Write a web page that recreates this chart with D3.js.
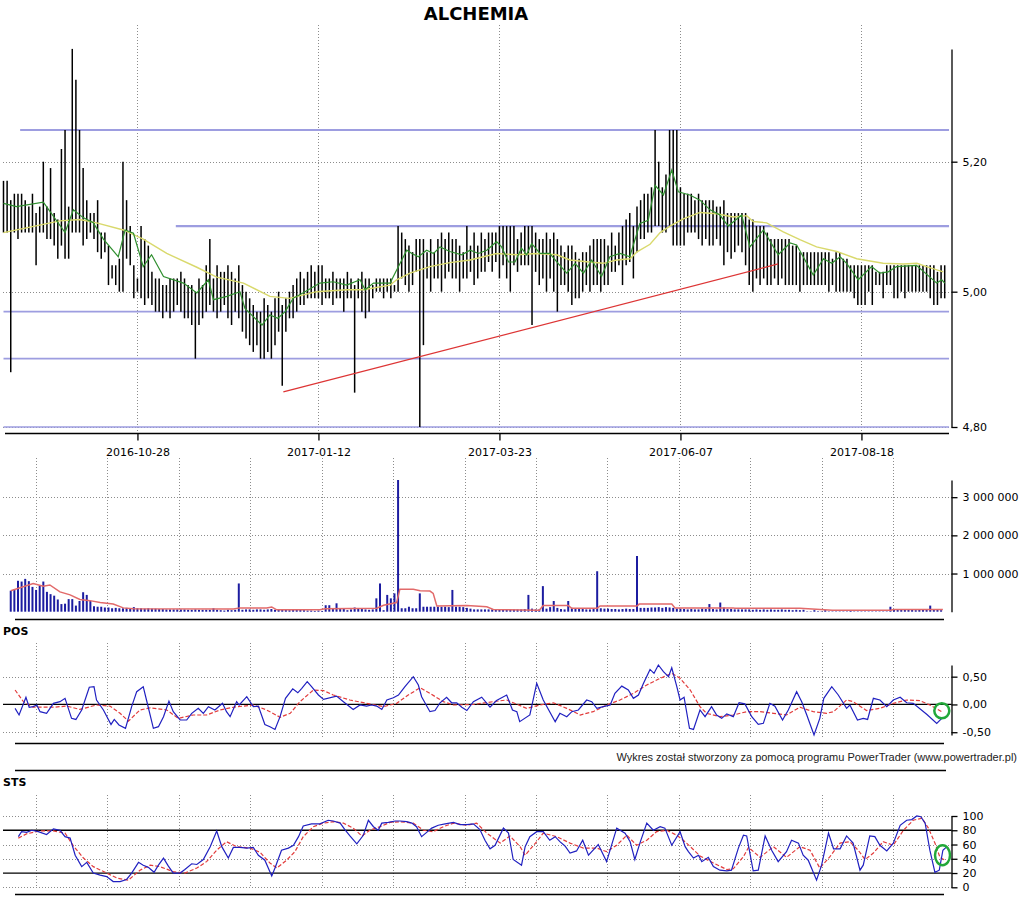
<!DOCTYPE html>
<html><head><meta charset="utf-8">
<script src="https://cdn.jsdelivr.net/npm/d3@7"></script>
<style>body{margin:0;background:#fff}svg{display:block}</style>
</head><body>
<svg id="c" width="1024" height="898"></svg>
<script>
// ---------------- DATA ----------------
const title = "ALCHEMIA";
const dateLabels = ["2016-10-28","2017-01-12","2017-03-23","2017-06-07","2017-08-18"];
const dateIdx = [37,87,137,187,237];
const priceTicks = [4.80, 5.00, 5.20];
const volTicks = [1000, 2000, 3000];      // thousands of shares
const posTicks = [-0.5, 0, 0.5];
const stsTicks = [0, 20, 40, 60, 80, 100];

const high = [
5.17,5.17,5.14,5.15,5.15,5.15,5.14,5.13,5.15,5.12,
5.13,5.20,5.13,5.19,5.12,5.11,5.22,5.25,5.13,5.38,
5.33,5.25,5.19,5.14,5.12,5.12,5.14,5.09,5.09,5.07,
5.04,5.04,5.05,5.20,5.14,5.10,5.04,5.02,5.10,5.08,
5.07,5.03,5.02,5.02,5.01,5.01,5.02,5.02,5.02,5.03,
5.02,5.01,5.01,5.00,5.02,5.01,5.04,5.08,5.02,5.04,
5.03,5.03,5.04,5.03,5.02,5.04,5.01,5.00,4.99,4.98,
4.97,4.97,4.99,4.98,4.97,4.99,5.00,4.98,4.99,5.00,
5.01,5.02,5.03,5.02,5.03,5.04,5.03,5.04,5.04,5.02,
5.02,5.03,5.02,5.02,5.02,5.03,5.02,5.01,5.02,5.03,
5.02,5.02,5.01,5.02,5.02,5.02,5.02,5.02,5.01,5.10,
5.09,5.08,5.07,5.06,5.08,5.08,5.08,5.06,5.08,5.06,
5.08,5.09,5.08,5.09,5.08,5.08,5.07,5.06,5.10,5.07,
5.09,5.07,5.09,5.08,5.09,5.09,5.09,5.10,5.10,5.10,
5.10,5.10,5.08,5.09,5.10,5.10,5.10,5.09,5.08,5.08,
5.09,5.08,5.09,5.08,5.07,5.06,5.07,5.07,5.06,5.05,
5.06,5.06,5.07,5.08,5.08,5.08,5.08,5.07,5.09,5.07,
5.09,5.10,5.11,5.12,5.10,5.13,5.14,5.15,5.15,5.16,
5.25,5.20,5.16,5.18,5.25,5.25,5.25,5.16,5.15,5.15,
5.15,5.14,5.15,5.14,5.14,5.14,5.14,5.13,5.13,5.14,
5.12,5.12,5.12,5.12,5.12,5.12,5.11,5.11,5.10,5.10,
5.10,5.09,5.08,5.08,5.08,5.08,5.08,5.08,5.07,5.07,
5.06,5.06,5.06,5.06,5.06,5.06,5.06,5.06,5.06,5.05,
5.06,5.06,5.05,5.05,5.04,5.04,5.04,5.04,5.04,5.04,
5.04,5.03,5.03,5.03,5.04,5.04,5.04,5.04,5.04,5.04,
5.04,5.04,5.04,5.04,5.04,5.04,5.04,5.04,5.03,5.04,
5.04];
const low = [
5.09,5.09,4.88,5.09,5.08,5.09,5.09,5.09,5.09,5.04,
5.09,5.09,5.08,5.08,5.07,5.05,5.07,5.05,5.05,5.09,
5.09,5.09,5.07,5.08,5.09,5.08,5.06,5.05,5.06,5.01,
5.02,5.01,5.00,5.00,5.05,5.04,4.99,5.00,4.99,4.98,
4.99,4.98,4.97,4.97,4.96,4.97,4.96,4.97,4.98,4.97,
4.96,4.96,4.95,4.90,4.95,4.96,4.97,4.98,4.97,4.96,
4.97,4.98,4.96,4.95,4.97,4.96,4.94,4.93,4.92,4.91,
4.92,4.90,4.90,4.91,4.90,4.92,4.94,4.86,4.94,4.96,
4.96,4.97,4.98,4.98,4.99,4.99,4.99,4.99,4.98,4.99,
4.99,4.98,4.99,4.99,4.97,4.99,4.99,4.85,4.99,4.97,
4.96,4.97,4.99,5.00,5.00,4.99,5.00,4.99,5.00,5.00,
5.02,5.01,5.00,5.01,5.03,4.80,4.92,5.02,5.00,5.02,
5.02,5.00,5.02,5.03,5.02,5.02,5.00,5.02,5.02,5.03,
5.01,5.02,5.03,5.03,5.045,5.03,5.045,5.02,5.04,5.02,
5.00,5.04,5.03,5.04,5.04,5.04,4.95,5.03,5.01,5.02,
5.00,5.02,5.00,4.97,5.01,5.01,5.00,4.98,4.99,4.99,
5.00,5.01,5.00,5.01,5.01,5.00,5.01,5.01,5.03,5.03,
5.04,5.01,5.04,5.045,5.02,5.06,5.08,5.08,5.09,5.09,
5.10,5.10,5.09,5.09,5.10,5.07,5.07,5.07,5.07,5.09,
5.09,5.09,5.08,5.07,5.08,5.07,5.07,5.08,5.07,5.04,
5.06,5.05,5.06,5.07,5.06,5.04,5.01,5.00,5.02,5.01,
5.02,5.01,5.01,5.02,5.01,5.02,5.01,5.01,5.01,5.01,
5.00,5.01,5.01,5.01,5.01,5.01,5.01,5.01,5.00,5.01,
5.00,5.00,5.00,5.00,5.00,4.99,4.98,4.98,4.98,5.00,
4.98,5.01,5.01,4.99,5.01,5.01,4.99,4.99,5.00,4.99,
5.00,5.00,5.00,5.00,5.00,5.00,4.99,4.98,4.98,4.99,
4.99];

// [bar index, value]
const fastMA = [[0,5.135],[3.6,5.13],[11,5.137],[17,5.09],[19.3,5.125],[22,5.113],[24.8,5.105],[27.6,5.08],[31.7,5.053],[33.6,5.094],[35.9,5.089],[38.6,5.038],[40.9,5.056],[44.2,5.023],[49.7,5.013],[53.4,4.998],[56.6,5.018],[58,4.988],[61.7,4.993],[65.3,5.00],[66.7,4.975],[69.5,4.96],[71.4,4.95],[73.6,4.965],[75.8,4.96],[77.8,4.97],[80,4.99],[83.3,5.00],[87.4,5.013],[91.1,5.015],[94.8,5.01],[98.5,5.018],[99.9,5.003],[102.2,5.013],[106.8,5.013],[107.7,5.023],[111.4,5.063],[112.8,5.058],[114.6,5.053],[116.9,5.063],[118.8,5.058],[120.6,5.068],[123.3,5.061],[126.6,5.056],[128.9,5.063],[131.2,5.058],[133.5,5.063],[136.2,5.076],[137.6,5.068],[139.5,5.045],[141.3,5.045],[143.1,5.066],[144.5,5.056],[145.9,5.073],[148.2,5.058],[150.9,5.058],[153.2,5.043],[155.6,5.028],[157.9,5.043],[160.2,5.028],[162.5,5.048],[165.2,5.023],[167.5,5.053],[170.3,5.058],[173,5.053],[175.8,5.104],[178.1,5.109],[180,5.163],[182.3,5.148],[184.6,5.187],[186.4,5.153],[189.6,5.148],[192.4,5.14],[195.2,5.125],[197.9,5.117],[200.2,5.10],[203.9,5.117],[206.2,5.068],[209.9,5.094],[214,5.056],[217.3,5.074],[219.1,5.071],[223.7,5.025],[226.5,5.05],[228.8,5.043],[231.1,5.053],[232.9,5.043],[236.1,5.018],[239.8,5.038],[242.1,5.028],[244.4,5.03],[246.7,5.038],[252.2,5.04],[257.8,5.013],[259.2,5.018],[260,5.013]];
const slowMA = [[0,5.09],[15.6,5.108],[21.1,5.11],[25.7,5.105],[33.1,5.094],[38.6,5.08],[45.1,5.058],[53.4,5.037],[58.9,5.022],[66.3,5.013],[73.6,4.993],[79,4.99],[86.5,5.00],[94.8,5.003],[99.4,5.003],[106.8,5.01],[108.6,5.018],[112.3,5.028],[117.8,5.038],[123.3,5.044],[128.9,5.048],[136.2,5.058],[141.8,5.056],[147.3,5.058],[152.8,5.056],[156.5,5.048],[161.7,5.045],[165.7,5.043],[169.4,5.048],[173.1,5.05],[174.9,5.06],[178.6,5.072],[181.4,5.09],[184.1,5.10],[187.8,5.111],[192.4,5.121],[197,5.119],[201.6,5.114],[205.3,5.116],[207.1,5.107],[210.8,5.105],[215.4,5.091],[220,5.079],[224.6,5.068],[230.2,5.061],[235.7,5.05],[243,5.043],[248.6,5.042],[252.3,5.043],[255,5.038],[259.6,5.03]];

const levels = [5.25, 5.10, 4.97, 4.90, 4.80];
const levelStart = [4.6, 47.6, 0, 0, 0];
const levelEnd = 261.2;
const trend = [[77.3, 4.851], [214, 5.042]];

const volume = [
null,null,550,590,810,790,860,800,650,570,
680,790,520,460,420,320,200,210,330,330,
160,280,510,440,280,140,130,130,110,110,
90,100,90,90,100,90,120,90,90,80,
90,80,80,70,70,60,60,60,60,60,
60,50,50,60,50,50,50,50,90,50,
40,30,50,40,50,740,50,60,60,50,
60,60,50,60,70,50,60,50,50,40,
50,50,50,40,30,30,20,30,20,170,
170,70,220,70,70,40,60,110,80,70,
60,50,60,350,740,40,440,350,480,3450,
90,90,130,90,90,480,130,130,130,130,
130,130,130,120,570,130,130,120,100,80,
60,60,60,60,60,60,60,60,60,60,
60,60,60,60,70,440,80,60,60,670,
80,120,280,100,70,60,280,100,70,70,
70,60,60,70,1060,90,80,80,70,70,
60,70,80,70,70,1460,100,100,100,110,
110,120,100,120,110,100,80,80,70,60,
70,60,60,80,70,200,70,60,240,110,
70,70,60,60,60,60,60,50,60,50,
60,50,60,50,50,60,50,50,40,50,
40,50,10,10,40,10,10,40,10,10,
10,10,10,10,40,10,10,10,10,10,
10,10,10,10,10,130,70,60,70,60,
70,50,40,60,70,50,160,60,70,40,
null];
const volMA = [[2,550],[8.2,740],[11,670],[12.8,700],[15.6,520],[18.4,440],[21.1,320],[23.9,290],[26.7,240],[30.3,200],[33.1,100],[35.9,80],[63.5,70],[65.3,100],[72.7,100],[74.1,120],[75.5,50],[87.4,50],[88.8,80],[103.1,90],[105,170],[108.6,240],[109.5,590],[113.2,590],[115.1,550],[117.8,540],[118.7,480],[119.7,150],[128,160],[133.5,130],[135.3,60],[148,40],[149.1,160],[156,160],[157,90],[164,90],[164.8,150],[175,150],[175.6,200],[184.6,200],[185.5,100],[201.6,100],[202,90],[220,90],[229,40],[245,40],[246,60],[259.5,60]];

const posLine = [[3.2,-0.07],[4.3,-0.19],[6.2,0.13],[7.1,-0.05],[8.2,-0.04],[9.2,-0.01],[10.1,-0.13],[11.9,-0.16],[13.8,0.02],[15.6,0.05],[17,0.11],[18.8,-0.25],[20,-0.27],[21.6,-0.10],[23.7,0.31],[25,0.32],[25.7,0.08],[27.6,-0.10],[29.7,-0.36],[30.6,-0.27],[31.9,-0.37],[33.7,-0.43],[35.4,-0.04],[36.8,0.23],[38.6,0.32],[39.5,0.08],[41.4,-0.43],[42.8,-0.40],[44.2,-0.22],[45.7,0.06],[46.9,-0.13],[48.8,-0.28],[50.6,-0.28],[52,-0.16],[53.8,-0.07],[55.2,-0.16],[56.6,-0.04],[58.4,-0.10],[60.5,0.02],[61.6,-0.13],[62.6,-0.22],[64.4,0.05],[65.1,-0.01],[67.2,0.14],[69,-0.04],[70.4,-0.03],[72.2,-0.36],[73.6,-0.40],[75,-0.45],[76.4,-0.22],[77.9,0.11],[79.9,0.28],[81.3,0.21],[82.4,0.29],[83.9,0.41],[85.1,0.32],[87,0.17],[88.4,0.09],[92,0.15],[93.9,0.05],[96.6,-0.09],[98.5,-0.01],[100.3,-0.03],[101.7,-0.01],[103.1,-0.03],[104.5,-0.09],[105.9,0.08],[107.7,0.12],[109.1,0.17],[110.9,0.32],[113.2,0.50],[114.6,0.35],[115.5,0.14],[117.8,-0.13],[119.2,-0.11],[120.6,0.03],[122.4,0.13],[123.8,0.03],[125.2,0.03],[126.6,-0.05],[128,-0.11],[129.8,0.05],[132.1,0.13],[134.4,-0.05],[136.2,0.07],[139,0.17],[140.6,-0.10],[141.8,-0.13],[142.6,-0.31],[145.4,-0.19],[147.3,0.38],[149.1,0.08],[152.4,-0.31],[153.7,-0.16],[155.6,-0.22],[157,-0.13],[158.8,-0.10],[161.1,0.08],[162.5,0.05],[163.9,-0.07],[165.7,-0.04],[167.6,-0.01],[168.9,0.20],[170.8,0.33],[172.6,0.26],[174,0.11],[175.4,0.17],[176.8,0.38],[178.6,0.63],[179.7,0.56],[180.9,0.71],[182.3,0.59],[183.7,0.50],[184.6,0.66],[186,0.32],[186.9,0.08],[188,0.13],[189.5,-0.43],[190.6,-0.45],[192.4,-0.10],[193.8,-0.22],[195.6,-0.04],[197,-0.19],[198.4,-0.25],[199.8,-0.17],[201.6,-0.22],[203.2,0.03],[204.8,0.01],[206.7,-0.22],[208.5,-0.36],[209.9,-0.34],[211.7,0.02],[213.1,-0.03],[215.2,-0.28],[216.8,-0.10],[219.1,0.23],[220.5,0.05],[221.9,-0.19],[223.9,-0.55],[225.5,-0.25],[226.6,0.11],[228.8,0.32],[230.6,0.17],[232.9,-0.07],[233.8,-0.01],[235.9,-0.28],[237.5,-0.25],[238.7,-0.27],[240.3,0.11],[242.1,0.08],[244,-0.04],[245.8,0.08],[247.7,0.13],[249.5,0.03],[251.3,0.02],[255.1,-0.18],[257.8,-0.34],[259.2,-0.25]];
const posSignal = [[3.2,0.26],[5.5,0.05],[8.2,-0.05],[13.8,-0.05],[17.5,-0.03],[21.1,-0.09],[25.7,-0.01],[29.4,-0.03],[32.2,-0.16],[34.5,-0.30],[37.7,-0.10],[40.5,-0.06],[45.1,-0.10],[48.3,-0.25],[52.4,-0.19],[56.1,-0.19],[59.8,-0.10],[63.5,-0.05],[69,-0.01],[72.7,-0.10],[76.4,-0.23],[79.2,-0.16],[81.9,0.05],[85.6,0.26],[88.4,0.25],[91.1,0.17],[95.7,0.08],[100.3,0.02],[105,-0.04],[108.6,0.02],[111.8,0.17],[115.1,0.30],[117.8,0.20],[121.5,0.05],[124.3,-0.01],[129.8,0.00],[135.3,0.05],[139,0.08],[144.5,-0.07],[148.2,-0.01],[151.9,0.03],[155.6,-0.07],[159.3,-0.19],[162.9,-0.13],[166.6,-0.01],[170.3,0.08],[174,0.20],[177.7,0.35],[181.4,0.47],[184.6,0.56],[186.9,0.47],[189.7,0.26],[192.4,-0.04],[194.2,-0.16],[197.9,-0.22],[201.6,-0.19],[205.3,-0.13],[209,-0.13],[212.7,-0.16],[216.3,-0.19],[220,-0.05],[223.7,-0.13],[227.4,-0.16],[229.3,-0.13],[232.9,0.08],[234.7,0.05],[238.4,-0.11],[242.1,-0.07],[245.8,0.02],[249.5,0.08],[253.1,0.07],[255.9,-0.01],[259.2,-0.13]];

const stsLine = [[4.1,71],[5,78],[6.4,77],[7.8,80],[9.6,78],[11.9,74],[13.8,82],[15.6,80],[17,71],[18.4,69],[19.8,45],[21.6,29],[23,35],[24.8,20],[26.7,17],[28.5,15],[30.3,8],[32.2,8],[34,11],[35.4,20],[37.3,35],[38.6,31],[40,28],[41.6,21],[42.8,31],[44.2,41],[45.5,30],[46.9,20],[48.8,20],[50.1,25],[52,33],[53.4,32],[55.2,39],[57.1,57],[58.9,79],[60.3,57],[62.1,41],[63.5,56],[65.3,56],[67.2,55],[69,56],[70.4,45],[72.2,38],[74.1,16],[75,27],[76.8,52],[78.7,55],[80.1,59],[81.5,71],[82.8,86],[85.1,89],[87.4,89],[89.7,94],[91.1,93],[93,90],[94.3,81],[95.7,72],[97.6,61],[99.4,73],[100.8,94],[102.2,85],[103.5,80],[104.5,90],[106.3,91],[108.2,93],[109.5,93],[111.4,92],[112.8,90],[114.1,85],[115.5,71],[116.9,77],[118.3,83],[120.1,87],[122,89],[124.3,91],[126.1,88],[128,88],[129.8,89],[131.6,81],[133,66],[134.4,54],[135.8,59],[138.1,83],[139.5,76],[140.8,39],[143.1,31],[144.1,57],[145.4,71],[147.3,78],[149.1,78],[150.9,66],[152.4,71],[153.7,64],[155.1,58],[156.5,48],[158.3,51],[160,66],[161.6,45],[164.3,60],[166.6,36],[169.4,83],[171.7,76],[173.1,64],[174.4,39],[175.8,62],[177.7,90],[179.5,80],[181.4,85],[182.7,83],[184.6,59],[186.9,78],[188.3,57],[189.2,50],[190.6,41],[192,45],[192.9,36],[194.7,42],[196.1,29],[197.9,24],[199.8,23],[201.1,24],[203,55],[204.4,73],[205.3,72],[207.1,23],[208.5,24],[210.4,72],[212.2,52],[214,36],[216.3,50],[217.7,66],[219.6,62],[220.9,45],[222.3,38],[224.6,10],[226,31],[227.9,76],[229.3,54],[231.1,54],[232.9,72],[234.7,62],[236.6,24],[237.5,31],[239.3,72],[240.7,71],[242.1,59],[244,51],[245.8,62],[247.7,87],[249.5,94],[250.9,95],[252.3,100],[253.4,99],[254.6,90],[255.9,52],[257.3,21],[258.5,24],[259.5,52],[260.6,57]];
const stsSignal = [[4.1,69],[6.4,75],[10.1,79],[13.8,79],[17,76],[19.3,58],[22.1,41],[24.8,29],[28.5,20],[31.3,13],[34.5,10],[37.7,24],[40.5,31],[43.2,29],[46.9,22],[50.1,20],[53.4,27],[56.1,36],[58.9,52],[61.6,64],[64.4,57],[68.1,55],[70.9,49],[73.6,34],[75.5,27],[78.2,38],[80.5,50],[82.8,71],[85.6,85],[88.4,90],[91.1,92],[93.9,90],[96.6,83],[99,72],[101.2,80],[104,85],[106.8,91],[109.5,92],[113.2,90],[116,80],[118.7,78],[121.5,85],[124.3,90],[128,87],[130.7,90],[133.5,76],[137.2,62],[139.9,72],[142.7,57],[144.1,45],[147.3,64],[149.1,76],[152.8,71],[156.5,62],[160.2,55],[163.9,55],[166.6,50],[169.4,59],[172.2,73],[174.9,59],[177.7,66],[180.4,78],[183.2,80],[186,73],[188.7,62],[192.4,44],[196.1,34],[199.8,25],[201.6,26],[204.4,43],[205.8,56],[209,42],[212.7,57],[216.3,42],[220,57],[222.8,52],[225.5,27],[228.3,43],[231.1,62],[233.8,64],[236.1,52],[238,39],[240.3,48],[243,64],[245.8,59],[248.6,80],[251.3,94],[253.7,97],[255.5,83],[257.3,62],[258.7,42],[260.1,38]];

const markers = [{panel:"pos", i:259.2, v:-0.113}, {panel:"sts", i:259.4, v:45}];
const credit = "Wykres zosta\u0142 stworzony za pomoc\u0105 programu PowerTrader (www.powertrader.pl)";

// ---------------- DRAW ----------------
const svg = d3.select("#c");
const FONT = "DejaVu Sans, Verdana, sans-serif";
const GRID = "#8c8c8c";

const xS = d3.scaleLinear().domain([0, 260]).range([3.5, 944.7]);
const yP = d3.scaleLog().domain([d3.min(low), d3.max(high)]).range([427, 48.9]);
const yV = d3.scaleLinear().domain([0, d3.max(volume)]).range([611.7, 480]);
const posVals = posLine.map(d => d[1]);
const yPos = d3.scaleLinear().domain([d3.min(posVals), d3.max(posVals)]).range([735, 665]);
const yS = d3.scaleLinear().domain([0, 100]).range([887.3, 816]);

const AX = 951.5;
const lowerGridX = d3.range(13).map(k => 36 + k * 71.42);

function hline(g, y, x1, x2, stroke, w, dash) {
  const l = g.append("line").attr("x1", x1).attr("x2", x2).attr("y1", y).attr("y2", y)
    .attr("stroke", stroke).attr("stroke-width", w);
  if (dash) l.attr("stroke-dasharray", dash);
  return l;
}
function vline(g, x, y1, y2, stroke, w, dash) {
  const l = g.append("line").attr("x1", x).attr("x2", x).attr("y1", y1).attr("y2", y2)
    .attr("stroke", stroke).attr("stroke-width", w);
  if (dash) l.attr("stroke-dasharray", dash);
  return l;
}
function styleAxis(g) {
  g.attr("font-family", FONT).attr("font-size", 11);
  g.selectAll("path.domain").attr("stroke", "#000").attr("stroke-width", 1.3);
  g.selectAll(".tick line").attr("stroke", "#000").attr("stroke-width", 1.3);
  g.selectAll(".tick text").attr("fill", "#000");
}
const comma = f => (v => f(v).replace(".", ",").replace("\u2212", "-"));

// title
svg.append("text").attr("x", 476).attr("y", 20).attr("text-anchor", "middle")
  .attr("font-family", FONT).attr("font-weight", "bold").attr("font-size", 18).text(title);

// ===== price panel =====
const gp = svg.append("g");
dateIdx.forEach(i => vline(gp, Math.round(xS(i)) + 0.5, 25, 433, GRID, 1, "1,2"));
priceTicks.forEach(t => hline(gp, Math.round(yP(t)) + 0.5, 3, AX, GRID, 1, "1,2"));
levels.forEach((lv, k) => hline(gp, yP(lv), xS(levelStart[k]), xS(levelEnd), "#9d9de0", k < 2 ? 2.2 : 1.6));

gp.append("g").selectAll("line").data(high).join("line")
  .attr("x1", (d, i) => xS(i)).attr("x2", (d, i) => xS(i))
  .attr("y1", d => yP(d)).attr("y2", (d, i) => yP(low[i]))
  .attr("stroke", "#000").attr("stroke-width", 1.5);

const lineP = d3.line().x(d => xS(d[0])).y(d => yP(d[1]));
gp.append("path").attr("d", lineP(slowMA)).attr("fill", "none").attr("stroke", "#d9d96c").attr("stroke-width", 1.4);
gp.append("path").attr("d", lineP(fastMA)).attr("fill", "none").attr("stroke", "#2f8f2f").attr("stroke-width", 1.2);
gp.append("path").attr("d", lineP(trend)).attr("fill", "none").attr("stroke", "#dd3535").attr("stroke-width", 1.3);

const ayP = gp.append("g").attr("transform", `translate(${AX},0)`)
  .call(d3.axisRight(yP).tickValues(priceTicks).tickFormat(comma(d3.format(".2f"))).tickSize(6).tickSizeOuter(0).tickPadding(5));
styleAxis(ayP);

const axB = gp.append("g").attr("transform", "translate(0,433.5)")
  .call(d3.axisBottom(xS).tickValues(dateIdx).tickFormat((d, j) => dateLabels[j]).tickSize(7).tickSizeOuter(0).tickPadding(8));
styleAxis(axB);
axB.select("path.domain").remove();
hline(gp, 433.5, 5, 949, "#000", 1.3);

// ===== volume panel =====
const gv = svg.append("g");
lowerGridX.forEach(x => vline(gv, Math.round(x) + 0.5, 458, 612, GRID, 1, "1,2"));
volTicks.forEach(t => hline(gv, Math.round(yV(t)) + 0.5, 3, AX, GRID, 1, "1,2"));
gv.append("g").selectAll("line").data(volume.map((v, i) => [i, v]).filter(d => d[1] != null)).join("line")
  .attr("x1", d => xS(d[0])).attr("x2", d => xS(d[0]))
  .attr("y1", d => yV(d[1])).attr("y2", yV(0))
  .attr("stroke", "#1c1ca0").attr("stroke-width", 2);
gv.append("path").attr("d", d3.line().x(d => xS(d[0])).y(d => yV(d[1]))(volMA))
  .attr("fill", "none").attr("stroke", "#e26a6a").attr("stroke-width", 1.5);
const ayV = gv.append("g").attr("transform", `translate(${AX},0)`)
  .call(d3.axisRight(yV).tickValues(volTicks).tickFormat(v => d3.format(",")(v * 1000).replace(/,/g, " ")).tickSize(6).tickSizeOuter(0).tickPadding(5));
styleAxis(ayV);
hline(gv, 619.5, 15, 944, "#000", 1.3);

// ===== POS panel =====
const gq = svg.append("g");
gq.append("text").attr("x", 3).attr("y", 635).attr("font-family", FONT).attr("font-weight", "bold").attr("font-size", 11).text("POS");
lowerGridX.forEach(x => vline(gq, Math.round(x) + 0.5, 643, 738, GRID, 1, "1,2"));
[-0.5, 0.5].forEach(t => hline(gq, Math.round(yPos(t)) + 0.5, 3, AX, GRID, 1, "1,2"));
hline(gq, yPos(0), 3, AX, "#000", 1.3);
const lineQ = d3.line().x(d => xS(d[0])).y(d => yPos(d[1]));
gq.append("path").attr("d", lineQ(posSignal)).attr("fill", "none").attr("stroke", "#e23b3b").attr("stroke-width", 1.2).attr("stroke-dasharray", "4,2");
gq.append("path").attr("d", lineQ(posLine)).attr("fill", "none").attr("stroke", "#2020c0").attr("stroke-width", 1.2);
const ayQ = gq.append("g").attr("transform", `translate(${AX},0)`)
  .call(d3.axisRight(yPos).tickValues(posTicks).tickFormat(comma(d3.format(".2f"))).tickSize(6).tickSizeOuter(0).tickPadding(5));
styleAxis(ayQ);
hline(gq, 743.5, 15, 944, "#000", 1.3);

// credit
svg.append("text").attr("x", 1017).attr("y", 761).attr("text-anchor", "end")
  .attr("font-family", "Liberation Sans, Arial, sans-serif").attr("font-size", 11).attr("fill", "#222").text(credit);
hline(svg, 770.5, 15, 946, "#000", 1.3);

// ===== STS panel =====
const gs = svg.append("g");
gs.append("text").attr("x", 3).attr("y", 786).attr("font-family", FONT).attr("font-weight", "bold").attr("font-size", 11).text("STS");
lowerGridX.forEach(x => vline(gs, Math.round(x) + 0.5, 795, 888, GRID, 1, "1,2"));
[0, 40, 60, 100].forEach(t => hline(gs, Math.round(yS(t)) + 0.5, 3, AX, GRID, 1, "1,2"));
[20, 80].forEach(t => hline(gs, yS(t), 3, AX, "#000", 1.3));
const lineS = d3.line().x(d => xS(d[0])).y(d => yS(d[1]));
gs.append("path").attr("d", lineS(stsSignal)).attr("fill", "none").attr("stroke", "#e23b3b").attr("stroke-width", 1.2).attr("stroke-dasharray", "4,2");
gs.append("path").attr("d", lineS(stsLine)).attr("fill", "none").attr("stroke", "#2020c0").attr("stroke-width", 1.2);
const ayS = gs.append("g").attr("transform", `translate(${AX},0)`)
  .call(d3.axisRight(yS).tickValues(stsTicks).tickFormat(d3.format("d")).tickSize(6).tickSizeOuter(0).tickPadding(5));
styleAxis(ayS);
hline(gs, 894.5, 15, 944, "#000", 1.3);

// green markers
markers.forEach(m => {
  const y = m.panel === "pos" ? yPos(m.v) : yS(m.v);
  svg.append("ellipse").attr("cx", xS(m.i)).attr("cy", y)
    .attr("rx", 7.5).attr("ry", m.panel === "pos" ? 7.5 : 10)
    .attr("fill", "none").attr("stroke", "#22a83a").attr("stroke-width", 2.5);
});
</script>
</body></html>
